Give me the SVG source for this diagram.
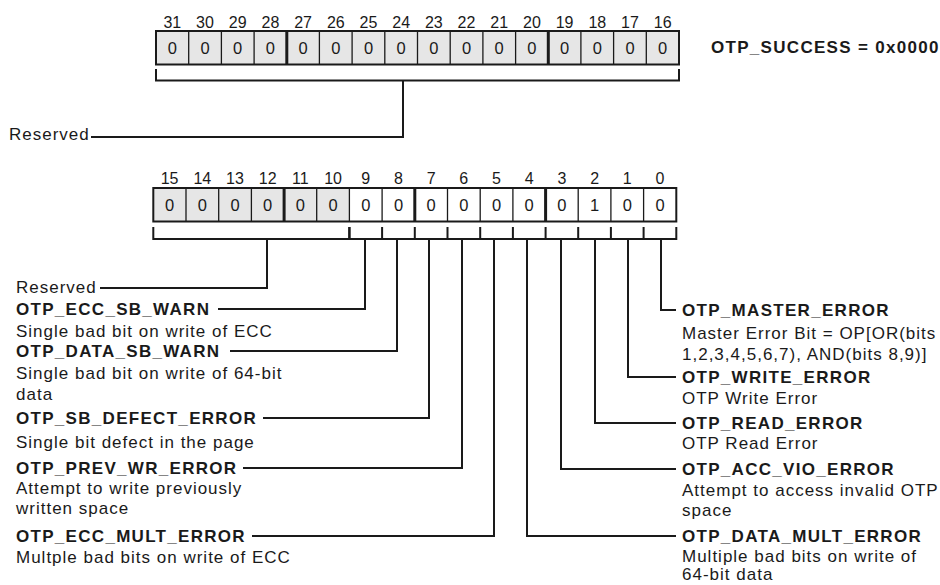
<svg xmlns="http://www.w3.org/2000/svg" width="940" height="585" viewBox="0 0 940 585">
<style>
text{font-family:"Liberation Sans",Arial,Helvetica,sans-serif;fill:#1a1a1a}
.t{font-size:17px;letter-spacing:1px}
.b{font-size:17px;font-weight:bold;letter-spacing:1.3px}
.n{font-size:16px;text-anchor:middle}
.v{font-size:16.5px;text-anchor:middle}
.div{stroke:#1a1a1a;stroke-width:1.3}
.thk{stroke:#1a1a1a;stroke-width:3}
.box{fill:none;stroke:#1a1a1a;stroke-width:2}
.con{fill:none;stroke:#1a1a1a;stroke-width:2}
</style>
<rect width="940" height="585" fill="#ffffff"/>
<g id="register-high">
<rect x="156" y="31" width="523" height="33.5" fill="#e6e6e6"/>
<g class="div">
<line x1="188.7" y1="31" x2="188.7" y2="64.5"/><line x1="221.4" y1="31" x2="221.4" y2="64.5"/><line x1="254.1" y1="31" x2="254.1" y2="64.5"/>
<line x1="319.4" y1="31" x2="319.4" y2="64.5"/><line x1="352.1" y1="31" x2="352.1" y2="64.5"/><line x1="384.8" y1="31" x2="384.8" y2="64.5"/><line x1="417.5" y1="31" x2="417.5" y2="64.5"/>
<line x1="450.2" y1="31" x2="450.2" y2="64.5"/><line x1="482.9" y1="31" x2="482.9" y2="64.5"/><line x1="515.6" y1="31" x2="515.6" y2="64.5"/>
<line x1="580.9" y1="31" x2="580.9" y2="64.5"/><line x1="613.6" y1="31" x2="613.6" y2="64.5"/><line x1="646.3" y1="31" x2="646.3" y2="64.5"/>
</g>
<line class="thk" x1="286.8" y1="31" x2="286.8" y2="64.5"/>
<line class="thk" x1="548.3" y1="31" x2="548.3" y2="64.5"/>
<rect class="box" x="156" y="31" width="523" height="33.5"/>
<g class="n">
<text x="172.3" y="27.5">31</text><text x="205" y="27.5">30</text><text x="237.7" y="27.5">29</text><text x="270.4" y="27.5">28</text>
<text x="303.1" y="27.5">27</text><text x="335.8" y="27.5">26</text><text x="368.5" y="27.5">25</text><text x="401.2" y="27.5">24</text>
<text x="433.8" y="27.5">23</text><text x="466.5" y="27.5">22</text><text x="499.2" y="27.5">21</text><text x="531.9" y="27.5">20</text>
<text x="564.6" y="27.5">19</text><text x="597.3" y="27.5">18</text><text x="630" y="27.5">17</text><text x="662.7" y="27.5">16</text>
</g>
<g class="v">
<text x="172.3" y="53.8">0</text><text x="205" y="53.8">0</text><text x="237.7" y="53.8">0</text><text x="270.4" y="53.8">0</text>
<text x="303.1" y="53.8">0</text><text x="335.8" y="53.8">0</text><text x="368.5" y="53.8">0</text><text x="401.2" y="53.8">0</text>
<text x="433.8" y="53.8">0</text><text x="466.5" y="53.8">0</text><text x="499.2" y="53.8">0</text><text x="531.9" y="53.8">0</text>
<text x="564.6" y="53.8">0</text><text x="597.3" y="53.8">0</text><text x="630" y="53.8">0</text><text x="662.7" y="53.8">0</text>
</g>
</g>
<g id="otp-success"><text class="b" x="711" y="53">OTP_SUCCESS = 0x0000</text></g>
<g id="reserved-high"><text class="t" x="9" y="140">Reserved</text></g>

<g id="register-low">
<rect x="153.3" y="188" width="196.1" height="33.5" fill="#e6e6e6"/>
<rect x="349.4" y="188" width="326.9" height="33.5" fill="#ffffff"/>
<g class="div">
<line x1="186" y1="188" x2="186" y2="221.5"/><line x1="218.7" y1="188" x2="218.7" y2="221.5"/><line x1="251.4" y1="188" x2="251.4" y2="221.5"/>
<line x1="316.7" y1="188" x2="316.7" y2="221.5"/><line x1="349.4" y1="188" x2="349.4" y2="221.5"/><line x1="382.1" y1="188" x2="382.1" y2="221.5"/>
<line x1="447.5" y1="188" x2="447.5" y2="221.5"/><line x1="480.2" y1="188" x2="480.2" y2="221.5"/><line x1="512.9" y1="188" x2="512.9" y2="221.5"/>
<line x1="578.2" y1="188" x2="578.2" y2="221.5"/><line x1="610.9" y1="188" x2="610.9" y2="221.5"/><line x1="643.6" y1="188" x2="643.6" y2="221.5"/>
</g>
<line class="thk" x1="284.1" y1="188" x2="284.1" y2="221.5"/>
<line class="thk" x1="414.8" y1="188" x2="414.8" y2="221.5"/>
<line class="thk" x1="545.6" y1="188" x2="545.6" y2="221.5"/>
<rect class="box" x="153.3" y="188" width="523" height="33.5"/>
<g class="n">
<text x="169.6" y="184">15</text><text x="202.3" y="184">14</text><text x="235" y="184">13</text><text x="267.7" y="184">12</text>
<text x="300.4" y="184">11</text><text x="333.1" y="184">10</text><text x="365.8" y="184">9</text><text x="398.5" y="184">8</text>
<text x="431.2" y="184">7</text><text x="463.8" y="184">6</text><text x="496.5" y="184">5</text><text x="529.2" y="184">4</text>
<text x="561.9" y="184">3</text><text x="594.6" y="184">2</text><text x="627.3" y="184">1</text><text x="660" y="184">0</text>
</g>
<g class="v">
<text x="169.6" y="210.8">0</text><text x="202.3" y="210.8">0</text><text x="235" y="210.8">0</text><text x="267.7" y="210.8">0</text>
<text x="300.4" y="210.8">0</text><text x="333.1" y="210.8">0</text><text x="365.8" y="210.8">0</text><text x="398.5" y="210.8">0</text>
<text x="431.2" y="210.8">0</text><text x="463.8" y="210.8">0</text><text x="496.5" y="210.8">0</text><text x="529.2" y="210.8">0</text>
<text x="561.9" y="210.8">0</text><text x="594.6" y="210.8">1</text><text x="627.3" y="210.8">0</text><text x="660" y="210.8">0</text>
</g>
</g>

<g id="connectors" class="con">
<path d="M156 69 V80.5 H679 V69"/>
<path d="M403 80.5 V137 H91"/>
<path d="M153.3 227 V239 H676.3 V227"/>
<path d="M349.4 227 V239" stroke-width="2.6"/>
<path d="M382.1 227 V239 M414.8 227 V239 M447.5 227 V239 M480.2 227 V239 M512.9 227 V239 M545.6 227 V239 M578.2 227 V239 M610.9 227 V239 M643.6 227 V239"/>
<path d="M100 288 H267 V239"/>
<path d="M218 309 H365 V239"/>
<path d="M230 351 H397 V239"/>
<path d="M263 418 H429 V239"/>
<path d="M243 468 H462 V239"/>
<path d="M252 536 H494 V239"/>
<path d="M527 239 V536 H676"/>
<path d="M561 239 V469 H676"/>
<path d="M595 239 V423 H676"/>
<path d="M628 239 V377 H676"/>
<path d="M661 239 V310 H676"/>
</g>

<g id="reserved-low"><text class="t" x="16" y="293">Reserved</text></g>
<g id="ecc-sb-warn"><text class="b" x="16" y="315">OTP_ECC_SB_WARN</text><text class="t" x="16" y="337">Single bad bit on write of ECC</text></g>
<g id="data-sb-warn"><text class="b" x="16" y="357">OTP_DATA_SB_WARN</text><text class="t" x="16" y="379">Single bad bit on write of 64-bit</text><text class="t" x="16" y="400">data</text></g>
<g id="sb-defect-error"><text class="b" x="16" y="424">OTP_SB_DEFECT_ERROR</text><text class="t" x="16" y="448">Single bit defect in the page</text></g>
<g id="prev-wr-error"><text class="b" x="16" y="474">OTP_PREV_WR_ERROR</text><text class="t" x="16" y="494">Attempt to write previously</text><text class="t" x="16" y="514">written space</text></g>
<g id="ecc-mult-error"><text class="b" x="16" y="542">OTP_ECC_MULT_ERROR</text><text class="t" x="16" y="563">Multple bad bits on write of ECC</text></g>

<g id="master-error"><text class="b" x="682" y="316">OTP_MASTER_ERROR</text><text class="t" x="682" y="339">Master Error Bit = OP[OR(bits</text><text class="t" x="682" y="360">1,2,3,4,5,6,7), AND(bits 8,9)]</text></g>
<g id="write-error"><text class="b" x="682" y="383">OTP_WRITE_ERROR</text><text class="t" x="682" y="404">OTP Write Error</text></g>
<g id="read-error"><text class="b" x="682" y="429">OTP_READ_ERROR</text><text class="t" x="682" y="449">OTP Read Error</text></g>
<g id="acc-vio-error"><text class="b" x="682" y="475">OTP_ACC_VIO_ERROR</text><text class="t" x="682" y="496">Attempt to access invalid OTP</text><text class="t" x="682" y="516">space</text></g>
<g id="data-mult-error"><text class="b" x="682" y="542">OTP_DATA_MULT_ERROR</text><text class="t" x="682" y="562">Multiple bad bits on write of</text><text class="t" x="682" y="580">64-bit data</text></g>
</svg>
